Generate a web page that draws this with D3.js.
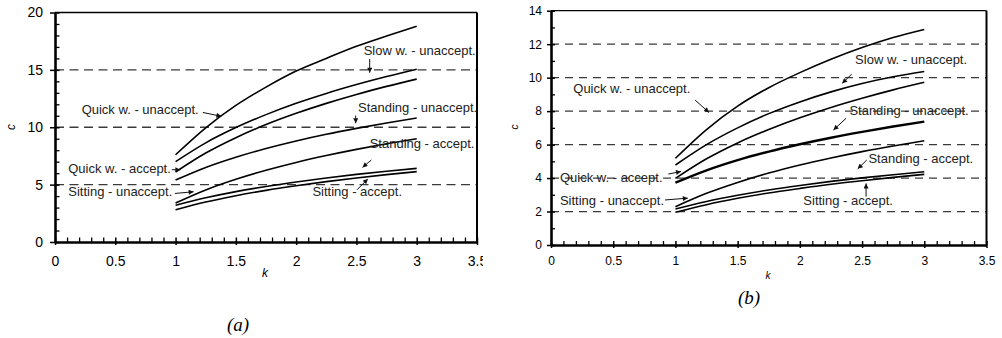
<!DOCTYPE html>
<html><head><meta charset="utf-8">
<script src="https://cdn.jsdelivr.net/npm/d3@7"></script>
<style>body{margin:0;background:#fff}svg{display:block}</style>
</head><body><svg id="chart" width="1002" height="338"></svg>
<script>
// ---------- data ----------
const kValues = [1, 1.25, 1.5, 1.75, 2, 2.25, 2.5, 2.75, 3];

// panel (a)
const a_curve1 = [7.6, 9.95, 11.9, 13.5, 14.9, 16.0, 17.05, 17.95, 18.8];
const a_curve2 = [7.0, 8.64, 9.97, 11.1, 12.09, 12.95, 13.72, 14.42, 15.06];
const a_curve3 = [6.1, 7.75, 9.09, 10.23, 11.21, 12.08, 12.86, 13.56, 14.2];
const a_curve4 = [5.4, 6.5, 7.39, 8.15, 8.81, 9.39, 9.9, 10.37, 10.8];
const a_curve5 = [3.4, 4.54, 5.47, 6.25, 6.93, 7.53, 8.07, 8.56, 9.0];
const a_curve6 = [3.2, 3.85, 4.39, 4.84, 5.23, 5.58, 5.89, 6.17, 6.42];
const a_curve7 = [2.8, 3.48, 4.03, 4.5, 4.9, 5.26, 5.58, 5.87, 6.13];

// panel (b)
const b_curve1 = [5.18, 6.9, 8.3, 9.4, 10.3, 11.1, 11.8, 12.4, 12.88];
const b_curve2 = [4.78, 6.0, 7.0, 7.85, 8.55, 9.15, 9.65, 10.05, 10.37];
const b_curve3 = [3.98, 5.15, 6.1, 6.9, 7.6, 8.22, 8.77, 9.27, 9.72];
const b_curve4 = [3.72, 4.46, 5.07, 5.58, 6.02, 6.41, 6.76, 7.08, 7.37];
const b_curve5 = [2.29, 3.09, 3.74, 4.3, 4.78, 5.2, 5.58, 5.92, 6.23];
const b_curve6 = [2.15, 2.6, 2.97, 3.29, 3.56, 3.8, 4.01, 4.2, 4.38];
const b_curve7 = [1.95, 2.41, 2.79, 3.11, 3.38, 3.63, 3.84, 4.04, 4.22];

const xTicks = [0, 0.5, 1, 1.5, 2, 2.5, 3, 3.5];
const a_yTicks = [0, 5, 10, 15, 20];
const a_gridValues = [5, 10, 15];
const b_yTicks = [0, 2, 4, 6, 8, 10, 12, 14];
const b_gridValues = [2, 4, 6, 8, 10, 12];

// annotation texts with anchor (k, c) and arrow from/to (k, c)
const a_notes = [
  {text: "Quick w. - unaccept.", at: [0.221, 11.13], from: [1.226, 11.29], to: [1.38, 10.95]},
  {text: "Slow w. - unaccept.", at: [2.56, 16.3], from: [2.61, 15.95], to: [2.61, 14.75]},
  {text: "Standing - unaccept.", at: [2.513, 11.36], from: [2.494, 11.02], to: [2.494, 10.35]},
  {text: "Standing - accept.", at: [2.61, 8.17], from: [2.624, 7.15], to: [2.55, 6.5]},
  {text: "Sitting - accept.", at: [2.135, 4.01], from: [2.505, 4.55], to: [2.595, 5.5]},
  {text: "Quick w. - accept.", at: [0.11, 6.04], from: [0.969, 6.3], to: [1.04, 6.3]},
  {text: "Sitting - unaccept.", at: [0.11, 4.01], from: [0.994, 4.23], to: [1.15, 4.38]}
];
const b_notes = [
  {text: "Quick w. - unaccept.", at: [0.179, 9.1], from: [1.158, 8.66], to: [1.27, 7.92]},
  {text: "Slow w. - unaccept.", at: [2.444, 10.81], from: [2.417, 10.21], to: [2.34, 9.66]},
  {text: "Standing - unaccept.", at: [2.398, 7.77], from: [2.371, 7.57], to: [2.27, 6.87]},
  {text: "Standing - accept.", at: [2.551, 4.88], from: [2.538, 5.08], to: [2.465, 4.55]},
  {text: "Sitting - accept.", at: [2.028, 2.39], from: [2.532, 2.89], to: [2.532, 3.68]},
  {text: "Quick w. - accept.", at: [0.072, 3.78], from: [0.943, 4.24], to: [1.045, 4.39]},
  {text: "Sitting - unaccept.", at: [0.072, 2.39], from: [0.916, 2.69], to: [1.1, 2.8]}
];

// ---------- drawing ----------
const SANS = '"Liberation Sans", Arial, sans-serif';
const SERIF = '"Liberation Serif", "Times New Roman", serif';
const svg = d3.select("#chart");
svg.append("rect").attr("width", 1002).attr("height", 338).attr("fill", "#fff");
const defs = svg.append("defs");
defs.append("marker").attr("id", "arr").attr("viewBox", "0 0 10 10")
  .attr("refX", 10).attr("refY", 5).attr("markerWidth", 6).attr("markerHeight", 5)
  .attr("markerUnits", "userSpaceOnUse").attr("orient", "auto")
  .append("path").attr("d", "M0,0L10,5L0,10Z").attr("fill", "#111");
defs.append("clipPath").attr("id", "clipA").append("rect")
  .attr("x", 0).attr("y", 0).attr("width", 483).attr("height", 338);

function drawPanel(cfg) {
  const g = svg.append("g").attr("clip-path", cfg.clip || null);
  const x = d3.scaleLinear().domain([0, 3.5]).range([cfg.x0, cfg.x1]);
  const y = d3.scaleLinear().domain([0, cfg.yMax]).range([cfg.y0, cfg.y1]);

  // dashed reference lines
  g.append("g").selectAll("line").data(cfg.grid).join("line")
    .attr("x1", cfg.x0).attr("x2", cfg.x1)
    .attr("y1", d => y(d)).attr("y2", d => y(d))
    .attr("stroke", "#3a3a3a").attr("stroke-width", 1.3)
    .attr("stroke-dasharray", cfg.dash);

  // curves
  const line = d3.line().x((d, i) => x(kValues[i])).y(d => y(d)).curve(d3.curveMonotoneX);
  g.append("g").selectAll("path").data(cfg.curves).join("path")
    .attr("d", d => line(d.values))
    .attr("fill", "none").attr("stroke", "#000")
    .attr("stroke-width", d => d.w);

  // frame top & right
  g.append("line").attr("x1", cfg.x0).attr("x2", cfg.x1).attr("y1", cfg.y1).attr("y2", cfg.y1)
    .attr("stroke", "#000").attr("stroke-width", 1.3);
  g.append("line").attr("x1", cfg.x1).attr("x2", cfg.x1).attr("y1", cfg.y1).attr("y2", cfg.y0)
    .attr("stroke", "#000").attr("stroke-width", 2);

  // minor ticks (inward)
  const yMinor = d3.range(0, cfg.yMax + 0.001, cfg.yMinorStep).filter(v => !cfg.yTicks.includes(v));
  const xMinor = d3.range(0, 3.5001, 0.1).map(v => +v.toFixed(1)).filter(v => !xTicks.includes(v));
  g.append("g").attr("transform", `translate(${cfg.x0},0)`)
    .call(d3.axisRight(y).tickValues(yMinor).tickSize(cfg.minor).tickFormat(""))
    .call(s => s.select(".domain").remove())
    .selectAll("line").attr("stroke-width", 1.3);
  g.append("g").attr("transform", `translate(0,${cfg.y0})`)
    .call(d3.axisTop(x).tickValues(xMinor).tickSize(cfg.minor).tickFormat(""))
    .call(s => s.select(".domain").remove())
    .selectAll("line").attr("stroke-width", 1.3);

  // major axes
  const ya = g.append("g").attr("transform", `translate(${cfg.x0},0)`)
    .call(d3.axisLeft(y).tickValues(cfg.yTicks).tickSizeInner(cfg.yTickLen).tickSizeOuter(0)
      .tickPadding(cfg.yPad).tickFormat(d3.format("d")));
  ya.select(".domain").attr("stroke-width", 2.6);
  ya.selectAll(".tick line").attr("x1", cfg.minor).attr("stroke-width", 1.5);
  ya.selectAll("text").attr("fill", "#000")
    .style("font-size", cfg.tickFont + "px").style("font-family", SANS);

  const xa = g.append("g").attr("transform", `translate(0,${cfg.y0})`)
    .call(d3.axisBottom(x).tickValues(xTicks).tickSizeInner(cfg.xTickLen).tickSizeOuter(0)
      .tickPadding(cfg.xPad).tickFormat(d => String(d)));
  xa.select(".domain").attr("stroke-width", 2.6);
  xa.selectAll(".tick line").attr("y1", -cfg.minor).attr("stroke-width", 1.5);
  xa.selectAll("text").attr("fill", "#000")
    .style("font-size", cfg.tickFont + "px").style("font-family", SANS);

  // annotations
  const ng = g.append("g");
  ng.selectAll("text").data(cfg.notes).join("text")
    .attr("x", d => x(d.at[0])).attr("y", d => y(d.at[1]))
    .style("font-size", cfg.noteFont + "px").style("font-family", SANS).attr("fill", "#222")
    .text(d => d.text);
  ng.selectAll("line").data(cfg.notes).join("line")
    .attr("x1", d => x(d.from[0])).attr("y1", d => y(d.from[1]))
    .attr("x2", d => x(d.to[0])).attr("y2", d => y(d.to[1]))
    .attr("stroke", "#111").attr("stroke-width", 1)
    .attr("marker-end", "url(#arr)");

  // axis titles
  svg.append("text").attr("transform", `translate(${cfg.cPos[0]},${cfg.cPos[1]}) rotate(-90)`)
    .attr("text-anchor", "middle").attr("dominant-baseline", "middle")
    .style("font-size", cfg.titleFont + "px").style("font-family", SANS)
    .style("font-style", "italic").text("c");
  svg.append("text").attr("x", cfg.kPos[0]).attr("y", cfg.kPos[1])
    .attr("text-anchor", "middle").style("font-size", cfg.titleFont + "px")
    .style("font-family", SANS).style("font-style", "italic").text("k");
  svg.append("text").attr("x", cfg.capPos[0]).attr("y", cfg.capPos[1])
    .attr("text-anchor", "middle").style("font-size", "19px").style("font-style", "italic")
    .style("font-family", SERIF).text(cfg.caption);
}

drawPanel({
  x0: 55, x1: 477, y0: 242, y1: 12.5, yMax: 20, yMinorStep: 1,
  yTicks: a_yTicks, grid: a_gridValues, dash: "9,5.5",
  curves: [a_curve1, a_curve2, a_curve3, a_curve4, a_curve5, a_curve6, a_curve7].map(v => ({values: v, w: 1.6})),
  notes: a_notes, minor: 4.5, yTickLen: 5, yPad: 7, xTickLen: 3, xPad: 11,
  tickFont: 14, noteFont: 13, titleFont: 12,
  cPos: [12, 127], kPos: [265, 277], capPos: [238, 331], caption: "(a)", clip: "url(#clipA)"
});

drawPanel({
  x0: 551, x1: 986.5, y0: 245, y1: 10.7, yMax: 14, yMinorStep: 1,
  yTicks: b_yTicks, grid: b_gridValues, dash: "8,6",
  curves: [b_curve1, b_curve2, b_curve3, b_curve4, b_curve5, b_curve6, b_curve7].map((v, i) => ({values: v, w: i === 3 ? 2.4 : 1.6})),
  notes: b_notes, minor: 4, yTickLen: 4, yPad: 5, xTickLen: 3, xPad: 8,
  tickFont: 12, noteFont: 13, titleFont: 10,
  cPos: [515, 127], kPos: [768, 279], capPos: [749, 304], caption: "(b)"
});
</script></body></html>
